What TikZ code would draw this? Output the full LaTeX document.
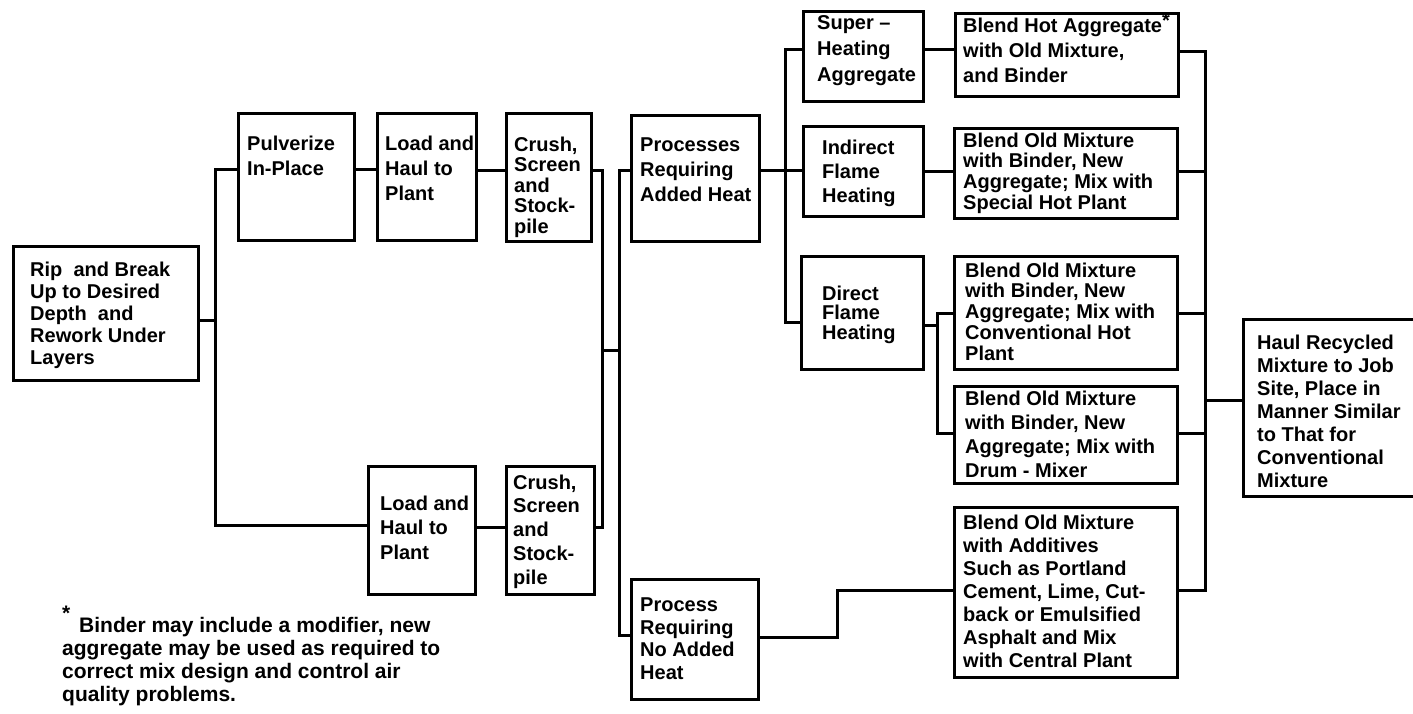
\documentclass[tikz,border=0pt]{standalone}
\usepackage{fontspec}
\setmainfont{Liberation Sans}
\begin{document}
\begin{tikzpicture}[x=1pt,y=-1pt,
  box/.style={draw, line width=2.6pt, rectangle, inner sep=0pt, anchor=north west},
  txt/.style={anchor=north west, inner sep=0pt, align=left, font=\fontsize{20}{#1}\selectfont\bfseries},
  txt/.default=23,
  note/.style={anchor=north west, inner sep=0pt, align=left, font=\fontsize{21}{23}\selectfont\bfseries},
  wire/.style={line width=3pt}]
\useasboundingbox (0,0) rectangle (1413,714);
% boxes
\node[box, minimum width=185pt, minimum height=134pt] (rip)    at (12,245)  {};
\node[box, minimum width=116pt, minimum height=127pt] (pulv)   at (237,112) {};
\node[box, minimum width=99pt,  minimum height=127pt] (load1)  at (376,112) {};
\node[box, minimum width=85pt,  minimum height=128pt] (crush1) at (505,112) {};
\node[box, minimum width=128pt, minimum height=126pt] (heat)   at (630,114) {};
\node[box, minimum width=107pt, minimum height=128pt] (lload)  at (367,465) {};
\node[box, minimum width=88pt,  minimum height=128pt] (crush2) at (505,465) {};
\node[box, minimum width=127pt, minimum height=120pt] (noheat) at (630,578) {};
\node[box, minimum width=120pt, minimum height=90pt]  (super)  at (802,10)  {};
\node[box, minimum width=120pt, minimum height=90pt]  (indir)  at (802,125) {};
\node[box, minimum width=122pt, minimum height=113pt] (direct) at (800,255) {};
\node[box, minimum width=223pt, minimum height=83pt]  (bhot)   at (954,12)  {};
\node[box, minimum width=223pt, minimum height=90pt]  (bspec)  at (953,127) {};
\node[box, minimum width=223pt, minimum height=113pt] (bconv)  at (953,255) {};
\node[box, minimum width=223pt, minimum height=97pt]  (bdrum)  at (953,385) {};
\node[box, minimum width=223pt, minimum height=170pt] (badd)   at (953,506) {};
\node[box, minimum width=173pt, minimum height=177pt] (haul)   at (1242,318) {};
% texts
\node[txt=22.2] (ripT) at (30,261.5) {Rip\ \ and Break\\Up to Desired\\Depth\ \ and\\Rework Under\\Layers};
\node[txt=25] (pulvT) at (247,135.5) {Pulverize\\In-Place};
\node[txt=25] (load1T) at (385,135.5) {Load and\\Haul to\\Plant};
\node[txt=20.5] (crush1T) at (514,136.5) {Crush,\\Screen\\and\\Stock-\\pile};
\node[txt=25] (heatT) at (640,137.5) {Processes\\Requiring\\Added Heat};
\node[txt=24.5] (lloadT) at (380,495.5) {Load and\\Haul to\\Plant};
\node[txt=23.75] (crush2T) at (513,474.5) {Crush,\\Screen\\and\\Stock-\\pile};
\node[txt=22.7] (noheatT) at (640,597.5) {Process\\Requiring\\No Added\\Heat};
\node[txt=26] (superT) at (817,15.5) {Super --\\Heating\\Aggregate};
\node[txt=24] (indirT) at (822,139.5) {Indirect\\Flame\\Heating};
\node[txt=19.5] (directT) at (822,285.5) {Direct\\Flame\\Heating};
\node[txt=25] (bhotT) at (963,17.5) {Blend Hot Aggregate\smash{\raisebox{5pt}{*}}\\with Old Mixture,\\and Binder};
\node[txt=20.7] (bspecT) at (963,132.5) {Blend Old Mixture\\with Binder, New\\Aggregate; Mix with\\Special Hot Plant};
\node[txt=20.8] (bconvT) at (965,262.5) {Blend Old Mixture\\with Binder, New\\Aggregate; Mix with\\Conventional Hot\\Plant};
\node[txt=24] (bdrumT) at (965,390.5) {Blend Old Mixture\\with Binder, New\\Aggregate; Mix with\\Drum - Mixer};
\node[txt=23] (baddT) at (963,514.5) {Blend Old Mixture\\with Additives\\Such as Portland\\Cement, Lime, Cut-\\back or Emulsified\\Asphalt and Mix\\with Central Plant};
\node[txt=23] (haulT) at (1257,334.5) {Haul Recycled\\Mixture to Job\\Site, Place in\\Manner Similar\\to That for\\Conventional\\Mixture};
\node[note] (footT) at (62,617) {\makebox[17pt][l]{\smash{\raisebox{12pt}{*}}}Binder may include a modifier, new\\aggregate may be used as required to\\correct mix design and control air\\quality problems.};
% bus coordinates
\coordinate (jA) at (602,350);
\coordinate (jB) at (619,350);
\coordinate (jH) at (1205,400);
% connectors
\draw[wire] (rip.east |- 0,320) -- (215,320);
\draw[wire] (pulv.west |- 0,170) -- (215,170) -- (215,525) -- (lload.west |- 0,525);
\draw[wire] (pulv.east |- 0,170) -- (load1.west |- 0,170);
\draw[wire] (load1.east |- 0,171) -- (crush1.west |- 0,171);
\draw[wire] (crush1.east |- 0,171) -- (602,171) -- (602,527) -- (crush2.east |- 0,527);
\draw[wire] (lload.east |- 0,527) -- (crush2.west |- 0,527);
\draw[wire] (jA) -- (jB);
\draw[wire] (heat.west |- 0,171) -- (619,171) -- (619,635) -- (noheat.west |- 0,635);
\draw[wire] (heat.east |- 0,171) -- (indir.west |- 0,171);
\draw[wire] (super.west |- 0,50) -- (785,50) -- (785,322) -- (direct.west |- 0,322);
\draw[wire] (super.east |- 0,50) -- (bhot.west |- 0,50);
\draw[wire] (indir.east |- 0,172) -- (bspec.west |- 0,172);
\draw[wire] (direct.east |- 0,325) -- (937,325);
\draw[wire] (bconv.west |- 0,313) -- (937,313) -- (937,433) -- (bdrum.west |- 0,433);
\draw[wire] (noheat.east |- 0,637) -- (837,637) -- (837,590) -- (badd.west |- 0,590);
\draw[wire] (bhot.east |- 0,52) -- (1205,52) -- (1205,590) -- (badd.east |- 0,590);
\draw[wire] (bspec.east |- 0,172) -- (1205,172);
\draw[wire] (bconv.east |- 0,313) -- (1205,313);
\draw[wire] (bdrum.east |- 0,433) -- (1205,433);
\draw[wire] (jH) -- (haul.west |- jH);
\end{tikzpicture}
\end{document}
